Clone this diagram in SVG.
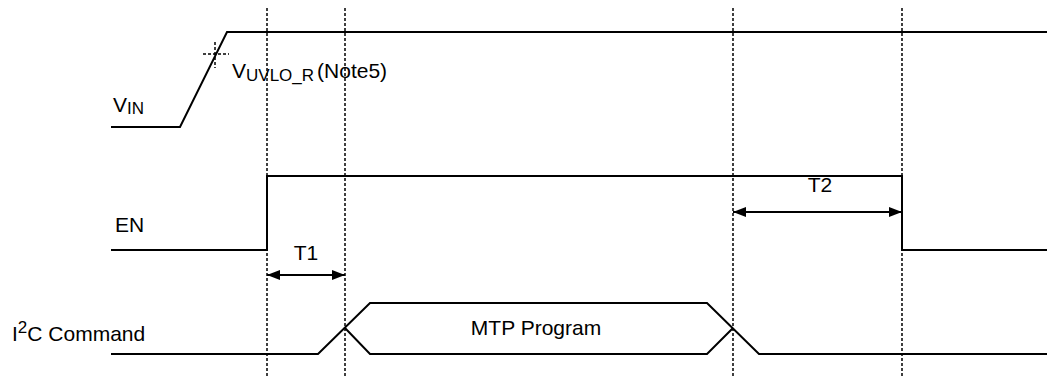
<svg xmlns="http://www.w3.org/2000/svg" width="1047" height="376" viewBox="0 0 1047 376">
  <style>
    .sig { fill: none; stroke: #000; stroke-width: 2; stroke-linejoin: miter; }
    .dot { fill: none; stroke: #000; stroke-width: 1.5; stroke-dasharray: 3 2; }
    .arr { fill: none; stroke: #000; stroke-width: 2; marker-start: url(#ah); marker-end: url(#ah); }
    text { font-family: "Liberation Sans", Arial, sans-serif; font-size: 21px; fill: #000; }
    .sub { font-size: 17px; }
  </style>
  <defs>
    <marker id="ah" viewBox="0 0 13 10" refX="13" refY="5" markerWidth="13" markerHeight="10" markerUnits="userSpaceOnUse" orient="auto-start-reverse">
      <path d="M0,0 L13,5 L0,10 z" fill="#000"/>
    </marker>
  </defs>

  <g id="guides">
    <line class="dot" x1="267" y1="8" x2="267" y2="376"/>
    <line class="dot" x1="345" y1="8" x2="345" y2="376"/>
    <line class="dot" x1="733" y1="8" x2="733" y2="376"/>
    <line class="dot" x1="902" y1="8" x2="902" y2="376"/>
  </g>

  <g id="vin">
    <polyline class="sig" points="111,127 180,127 227,32 1047,32"/>
    <line class="dot" x1="203" y1="54" x2="229" y2="54"/>
    <line class="dot" x1="215" y1="42" x2="215" y2="68"/>
    <text x="113" y="112">V<tspan class="sub" dy="2">IN</tspan></text>
    <text x="232" y="78">V<tspan class="sub" dy="3">UVLO_R</tspan><tspan dy="-3" dx="3">(Note5)</tspan></text>
  </g>

  <g id="en">
    <polyline class="sig" points="111,250 267,250 267,176 902,176 902,250 1047,250"/>
    <text x="115" y="232">EN</text>
  </g>

  <g id="i2c">
    <polyline class="sig" points="111,354 318,354 370,303 707,303 759,354 1047,354"/>
    <polyline class="sig" points="345,328 370,354 707,354 733,328"/>
    <text x="12" y="341">I<tspan class="sub" dy="-8">2</tspan><tspan dy="8">C Command</tspan></text>
    <text x="536" y="335" text-anchor="middle">MTP Program</text>
  </g>

  <g id="connectors">
    <line class="arr" x1="267" y1="275" x2="345" y2="275"/>
    <text x="306" y="260" text-anchor="middle">T1</text>
    <line class="arr" x1="733" y1="212" x2="902" y2="212"/>
    <text x="820" y="192" text-anchor="middle">T2</text>
  </g>
</svg>
